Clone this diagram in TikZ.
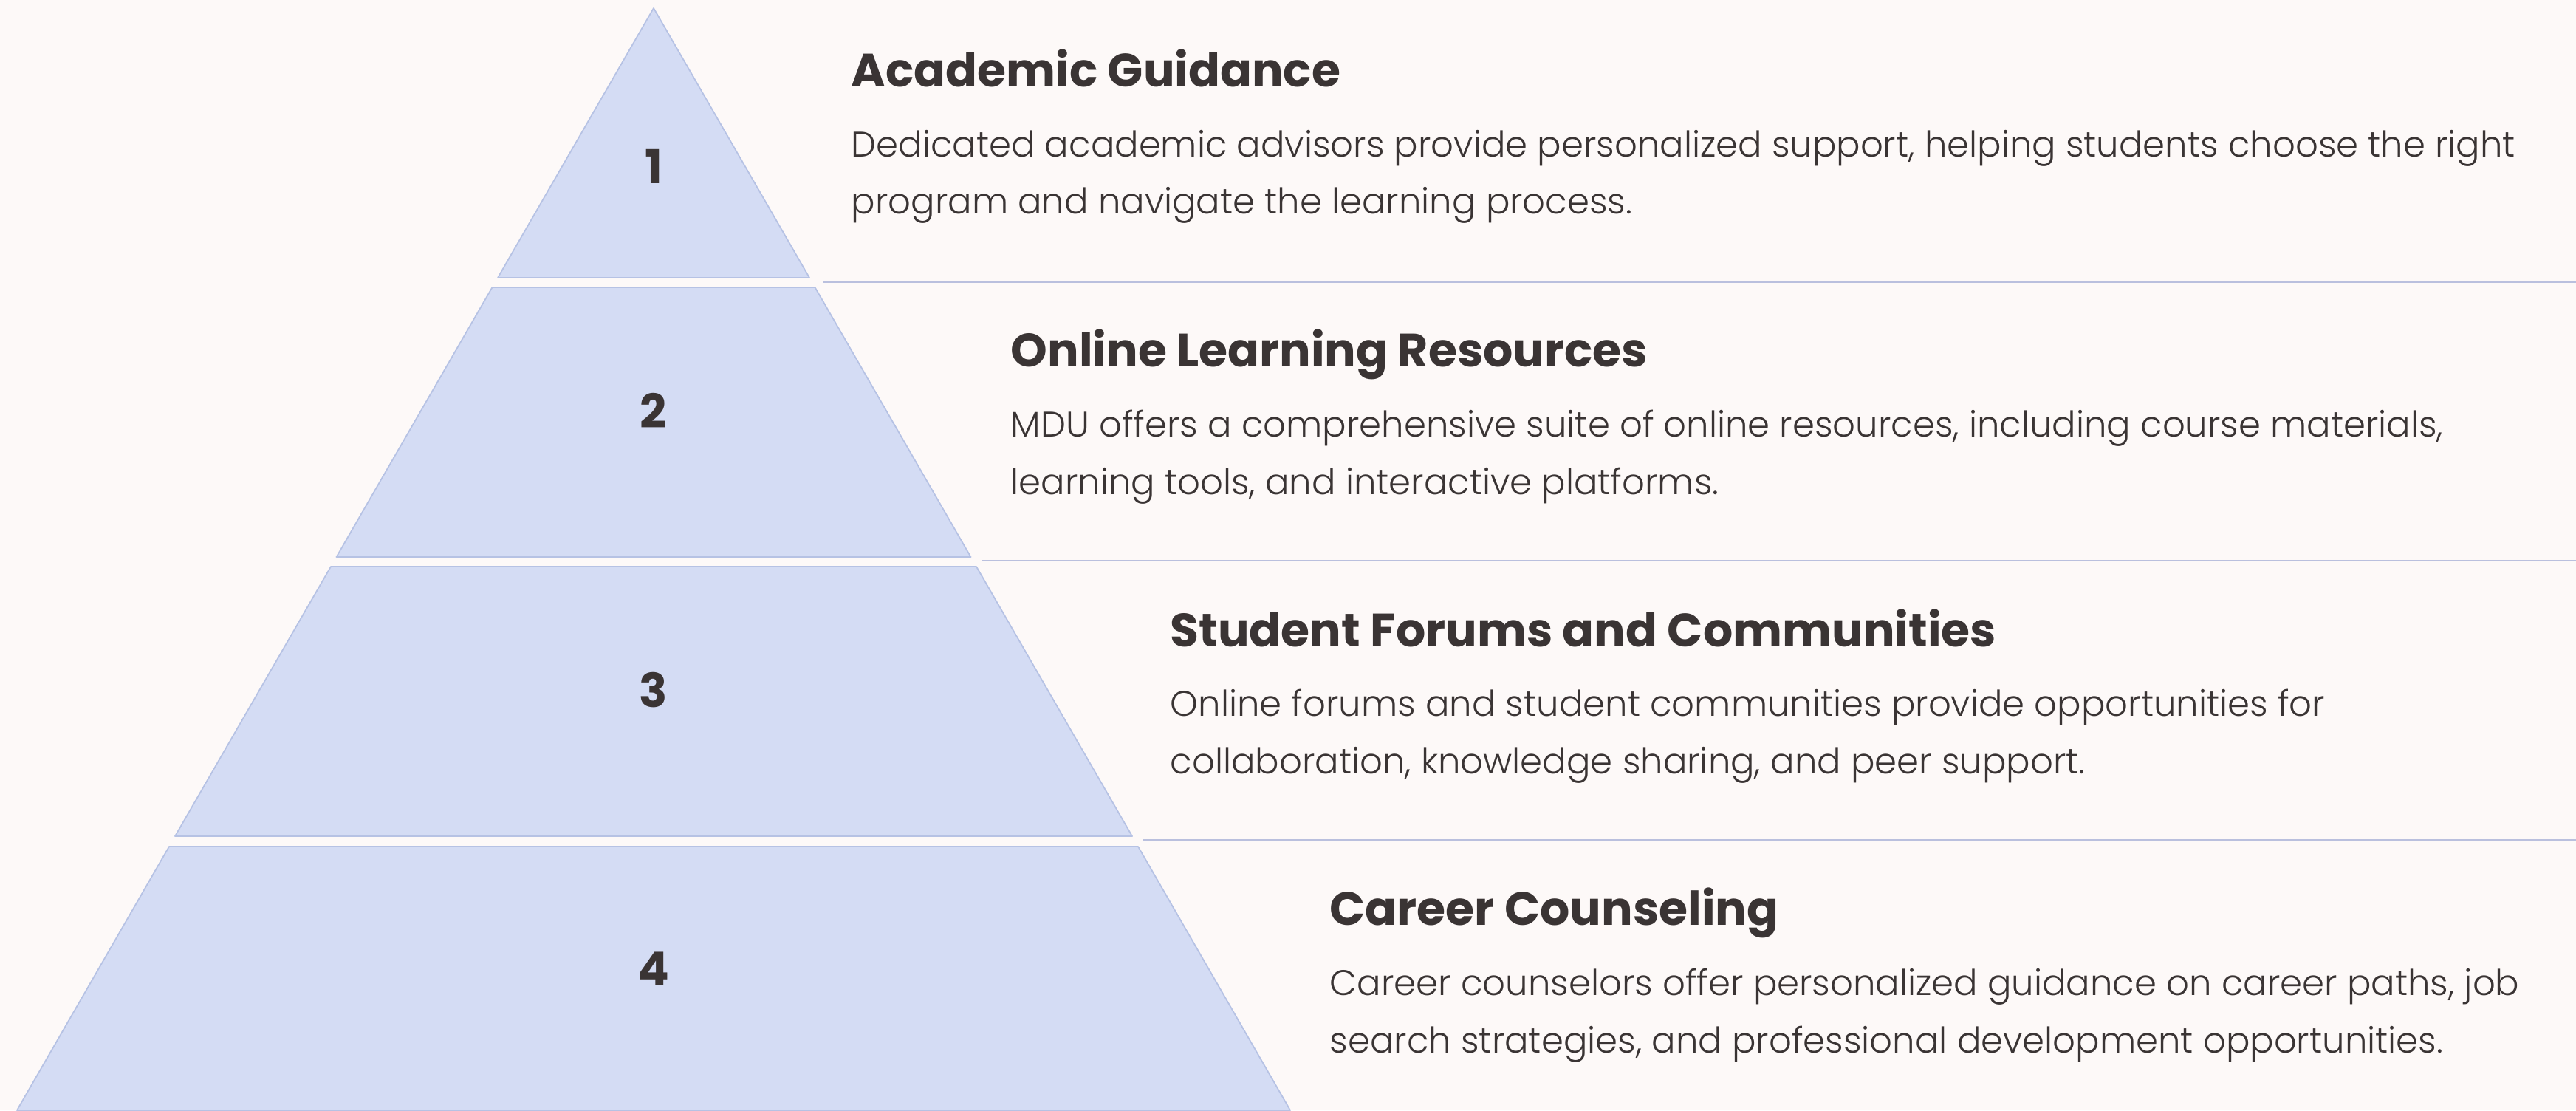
\documentclass[tikz,border=0pt]{standalone}
\usepackage{fontspec}
\setmainfont{Poppins}[UprightFont={* Light},BoldFont={* Bold}]
\usetikzlibrary{positioning}
\definecolor{pagebg}{RGB}{253,249,248}
\definecolor{tierblue}{RGB}{212,220,244}
\definecolor{tieredge}{RGB}{182,194,228}
\definecolor{sepblue}{RGB}{186,192,222}
\definecolor{inkgray}{RGB}{58,52,52}
\tikzstyle{tier}=[fill=tierblue,draw=tieredge,line width=0.5pt,line join=round]
\tikzstyle{sepline}=[draw=sepblue,line width=0.8pt]
\tikzstyle{tiernum}=[text=inkgray,font=\fontsize{18pt}{20pt}\selectfont\bfseries,inner sep=0pt]
\tikzstyle{tiertitle}=[text=inkgray,font=\fontsize{18pt}{20pt}\selectfont\bfseries,anchor=base west,inner sep=0pt]
% body node sits on the baseline of its last line
\tikzstyle{tierbody}=[text=inkgray,font=\fontsize{13.7pt}{22pt}\selectfont,align=left,anchor=base west,inner sep=0pt]

\begin{document}
\begin{tikzpicture}
  \useasboundingbox (0,0) rectangle (34.88,15.03);
  \fill[pagebg] (0,0) rectangle (34.88,15.03);

  % pyramid
  \draw[tier] (8.85,14.92) -- (10.96,11.27) -- (6.74,11.27) -- cycle;
  \draw[tier] (6.665,11.14) -- (11.035,11.14) -- (13.145,7.49) -- (4.555,7.49) -- cycle;
  \draw[tier] (4.48,7.36) -- (13.22,7.36) -- (15.33,3.71) -- (2.37,3.71) -- cycle;
  \draw[tier] (2.29,3.57) -- (15.41,3.57) -- (17.47,0) -- (0.23,0) -- cycle;

  \node[tiernum] (n1) at (8.85,12.78) {1};
  \node[tiernum] (n2) at (8.85,9.47) {2};
  \node[tiernum] (n3) at (8.85,5.69) {3};
  \node[tiernum] (n4) at (8.85,1.91) {4};

  % separators
  \coordinate (s1) at (11.15,11.21);
  \coordinate (e1) at (34.88,11.21);
  \coordinate (s2) at (13.30,7.44);
  \coordinate (e2) at (34.88,7.44);
  \coordinate (s3) at (15.47,3.66);
  \coordinate (e3) at (34.88,3.66);
  \draw[sepline] (s1) -- (e1);
  \draw[sepline] (s2) -- (e2);
  \draw[sepline] (s3) -- (e3);

  % texts
  \node[tiertitle] (t1) at (11.52,13.85) {Academic Guidance};
  \node[tierbody] (b1) at (11.52,12.13) {Dedicated academic advisors provide personalized support, helping students choose the right\\program and navigate the learning process.};

  \node[tiertitle] (t2) at (13.68,10.06) {Online Learning Resources};
  \node[tierbody] (b2) at (13.68,8.34) {MDU offers a comprehensive suite of online resources, including course materials,\\learning tools, and interactive platforms.};

  \node[tiertitle] (t3) at (15.84,6.28) {Student Forums and Communities};
  \node[tierbody] (b3) at (15.84,4.56) {Online forums and student communities provide opportunities for\\collaboration, knowledge sharing, and peer support.};

  \node[tiertitle] (t4) at (18.00,2.51) {Career Counseling};
  \node[tierbody] (b4) at (18.00,0.78) {Career counselors offer personalized guidance on career paths, job\\search strategies, and professional development opportunities.};
\end{tikzpicture}
\end{document}
